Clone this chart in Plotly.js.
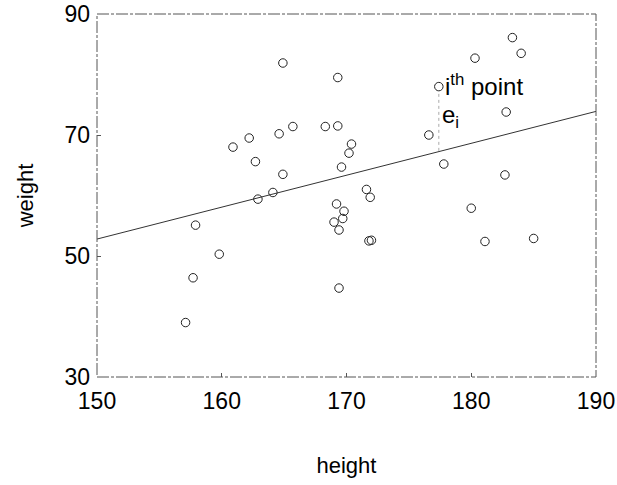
<!DOCTYPE html>
<html>
<head>
<meta charset="utf-8">
<script src="https://cdn.plot.ly/plotly-3.0.1.min.js"></script>
<style>
  html, body { margin: 0; padding: 0; background: #fff; }
  #chart { width: 617px; height: 485px; }
</style>
</head>
<body>
<div id="chart"></div>
<script>
// Observed data points (height, weight)
const heights = [157.1, 157.7, 157.9, 159.8, 160.9, 162.2, 162.7, 162.9, 164.1, 164.6,
                 164.9, 164.9, 165.7, 168.3, 169.3, 169.3, 170.4, 170.2, 169.6, 169.2,
                 169.8, 169.7, 169.0, 169.4, 169.4, 171.6, 171.9, 171.8, 172.0, 176.6,
                 177.4, 177.8, 180.0, 180.3, 181.1, 182.7, 182.8, 183.3, 184.0, 185.0];
const weights = [39.0, 46.4, 55.1, 50.3, 68.0, 69.5, 65.6, 59.4, 60.5, 70.2,
                 63.5, 81.9, 71.4, 71.4, 71.5, 79.5, 68.5, 67.0, 64.7, 58.6,
                 57.4, 56.2, 55.6, 54.3, 44.7, 61.0, 59.7, 52.5, 52.6, 70.0,
                 78.0, 65.2, 57.9, 82.7, 52.4, 63.4, 73.8, 86.1, 83.5, 52.9];

// Fitted regression line endpoints
const fitX = [150, 190];
const fitY = [52.8, 73.9];

// Residual of the i-th point (dotted segment from point to fitted line)
const residX = [177.4, 177.4];
const residY = [76.8, 67.3];

// Tick labels
const xTicks = [150, 160, 170, 180, 190];
const yTicks = [30, 50, 70, 90];

const font = "'Liberation Sans', Arial, Helvetica, sans-serif";

const traces = [
  {
    x: fitX, y: fitY, type: 'scatter', mode: 'lines',
    line: { color: '#333', width: 1 }, hoverinfo: 'skip', showlegend: false
  },
  {
    x: residX, y: residY, type: 'scatter', mode: 'lines',
    line: { color: '#aaa', width: 1, dash: 'dot' }, hoverinfo: 'skip', showlegend: false
  },
  {
    x: heights, y: weights, type: 'scatter', mode: 'markers',
    marker: { symbol: 'circle-open', size: 8.5, color: '#222', line: { width: 1, color: '#222' } },
    showlegend: false
  }
];

const layout = {
  width: 617, height: 485,
  margin: { l: 97, r: 21, t: 14, b: 108 },
  paper_bgcolor: '#fff', plot_bgcolor: '#fff',
  font: { family: font, color: '#000', size: 22 },
  showlegend: false,
  xaxis: {
    range: [150, 190], tickvals: xTicks, ticktext: xTicks.map(String),
    showgrid: false, zeroline: false, showline: false,
    ticks: 'inside', ticklen: 4, tickcolor: '#555',
    ticklabelstandoff: 8,
    tickfont: { family: font, size: 23, color: '#000' },
    title: { text: 'height', font: { family: font, size: 22, color: '#000' }, standoff: 44 }
  },
  yaxis: {
    range: [30, 90], tickvals: yTicks, ticktext: yTicks.map(String),
    showgrid: false, zeroline: false, showline: false,
    ticks: 'inside', ticklen: 4, tickcolor: '#555',
    ticklabelstandoff: 6,
    tickfont: { family: font, size: 23, color: '#000' },
    title: { text: 'weight', font: { family: font, size: 22, color: '#000' }, standoff: 24 }
  },
  shapes: [
    {
      type: 'rect', xref: 'paper', yref: 'paper', x0: 0, x1: 1, y0: 0, y1: 1,
      line: { color: '#555', width: 1, dash: '12px,2px,3px,2px' }
    }
  ],
  annotations: [
    {
      x: 177.75, y: 78.3, xref: 'x', yref: 'y', xanchor: 'left', yanchor: 'middle',
      text: 'i<sup>th</sup> point', showarrow: false,
      font: { family: font, size: 24, color: '#000' }
    },
    {
      x: 177.5, y: 73.0, xref: 'x', yref: 'y', xanchor: 'left', yanchor: 'middle',
      text: 'e<sub>i</sub>', showarrow: false,
      font: { family: font, size: 24, color: '#000' }
    }
  ]
};

Plotly.newPlot('chart', traces, layout, { displayModeBar: false, staticPlot: true });
</script>
</body>
</html>
